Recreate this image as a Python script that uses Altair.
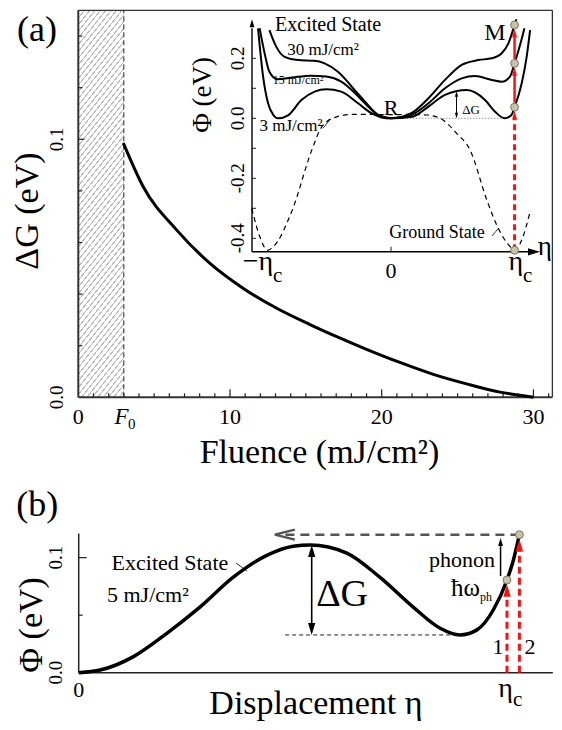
import altair as alt
import pandas as pd

FONT = "Liberation Serif"

# ---------------- data ----------------
# panel (a): activation barrier vs fluence
fluence = [2.97, 4.28, 6.49, 8.68, 10.88, 13.08, 15.27, 17.0, 19.0, 21.2, 23.4, 25.6, 27.8, 29.8, 30.0]
delta_g = [0.0985, 0.0816, 0.0648, 0.0519, 0.0422, 0.0345, 0.0282, 0.0236, 0.0186, 0.0135, 0.0089, 0.0052, 0.0020, 0.0002, 0.0]
F0 = 3.0
a_xticks_minor = [v for v in range(1, 32) if v % 10 != 0]
a_xticks_major = [10, 20, 30]
a_xlabels = [(0, "0"), (10, "10"), (20, "20"), (30, "30")]
a_yticks = [0.02, 0.04, 0.06, 0.08, 0.12, 0.14]
a_ylabels = [(0.0, "0.0"), (0.1, "0.1")]
a_xmax = 31.25

# inset: potential curves (eta in units of eta_c)
eta_3 = [-1.077, -1.036, -0.996, -0.955, -0.915, -0.834, -0.726, -0.619, -0.524, -0.403, -0.267, -0.159, -0.078, 0.0,
         0.168, 0.303, 0.437, 0.613, 0.761, 0.842, 0.92, 0.975, 1.0, 1.058, 1.098, 1.126]
phi_3 = [0.300, 0.139, 0.050, 0.012, 0.000, 0.010, 0.061, 0.089, 0.097, 0.089, 0.050, 0.017, 0.003, 0.000,
         0.005, 0.039, 0.078, 0.094, 0.061, 0.022, 0.000, 0.011, 0.037, 0.117, 0.205, 0.294]
eta_15 = [-1.064, -1.024, -0.985, -0.92, -0.80, -0.65, -0.524, -0.403, -0.295, -0.186, -0.09, 0.0,
          0.168, 0.303, 0.437, 0.572, 0.68, 0.815, 0.896, 0.963, 1.0, 1.055, 1.08]
phi_15 = [0.300, 0.217, 0.155, 0.130, 0.136, 0.142, 0.139, 0.122, 0.085, 0.039, 0.008, 0.000,
          0.012, 0.050, 0.100, 0.133, 0.141, 0.128, 0.122, 0.139, 0.183, 0.260, 0.300]
eta_30 = [-0.985, -0.93, -0.862, -0.754, -0.619, -0.538, -0.43, -0.294, -0.186, -0.105, 0.0,
          0.168, 0.303, 0.437, 0.572, 0.707, 0.815, 0.896, 0.95, 1.0, 1.015]
phi_30 = [0.294, 0.239, 0.205, 0.194, 0.192, 0.183, 0.155, 0.094, 0.044, 0.011, 0.000,
          0.018, 0.067, 0.128, 0.178, 0.194, 0.200, 0.217, 0.250, 0.311, 0.330]
eta_g = [-1.128, -1.058, -1.0, -0.953, -0.80, -0.642, -0.56, -0.44, -0.305, -0.15, 0.0, 0.15, 0.289, 0.397,
         0.531, 0.64, 0.775, 0.856, 0.964, 1.0, 1.058, 1.126]
phi_g = [-0.300, -0.400, -0.440, -0.428, -0.306, -0.106, -0.028, 0.005, 0.013, 0.013, 0.012, 0.013, 0.011, 0.000,
         -0.050, -0.106, -0.272, -0.356, -0.428, -0.440, -0.406, -0.311]
inset_points_phi = [0.037, 0.183, 0.311, -0.440]
i_yticks = [-0.4, -0.3, -0.2, -0.1, 0.0, 0.1, 0.2]
i_ylabels = [(0.2, "0.2"), (0.0, "0.0"), (-0.2, "-0.2"), (-0.4, "-0.4")]

# panel (b): excited state at 5 mJ/cm2
eta_b = [0.0, 0.05, 0.128, 0.205, 0.283, 0.361, 0.439, 0.501, 0.54, 0.626, 0.703, 0.781, 0.844, 0.89, 0.929,
         0.968, 1.0, 1.015, 1.029]
phi_b = [0.0, 0.0023, 0.014, 0.034, 0.057, 0.083, 0.102, 0.110, 0.111, 0.104, 0.083, 0.057, 0.0386, 0.0328, 0.037,
         0.0545, 0.0806, 0.098, 0.120]
b_point1 = (1.0, 0.0806)
b_point2 = (1.029, 0.120)
b_max = (0.544, 0.111)
b_min = (0.89, 0.0328)
b_ylabels = [(0.0, "0.0"), (0.1, "0.1")]
b_xmax = 1.107

# ---------------- scales (explicit pixel ranges for each panel) ----------------
def S(dom, rng):
    return alt.Scale(domain=dom, range=rng, nice=False, zero=False)

AX = S([0, 31.6], [70.3, 549.7])
AY = S([0, 0.15], [389.3, 2.3])
IX = S([-1.126, 1.206], [244.0, 532.0])
IY = S([-0.445, 0.33], [243.8, 11.3])
BX = S([0, 1.124], [70.7, 552.1])
BY = S([0, 0.121], [664.7, 525.5])

UP = "M0,0L0.6,2L-0.6,2Z"
DOWN = "M0,0L0.6,-2L-0.6,-2Z"
RIGHT = "M0,0L-2,0.6L-2,-0.6Z"
LEFT_CHEV = "M2,-0.5L0,0L2,0.5"

layers = []


def xy(xs, ys, xf="x", yf="y"):
    return dict(x=alt.X(f"{xf}:Q", scale=xs, axis=None), y=alt.Y(f"{yf}:Q", scale=ys, axis=None))


def curve(xv, yv, xs, ys, interp="monotone", **mk):
    df = pd.DataFrame({"x": xv, "y": yv})
    layers.append(alt.Chart(df).mark_line(interpolate=interp, **mk).encode(**xy(xs, ys)))


def segs(rows, xs, ys, **mk):
    df = pd.DataFrame(rows, columns=["x", "y", "x2", "y2"])
    layers.append(alt.Chart(df).mark_rule(**mk).encode(
        x=alt.X("x:Q", scale=xs, axis=None), y=alt.Y("y:Q", scale=ys, axis=None),
        x2="x2:Q", y2="y2:Q"))


def ticks_x(vals, xs, y0, length, width=1.2):
    df = pd.DataFrame({"v": vals})
    layers.append(alt.Chart(df).mark_rule(color="#222", strokeWidth=width).encode(
        x=alt.X("v:Q", scale=xs, axis=None), y=alt.value(y0), y2=alt.value(y0 - length)))


def ticks_y(vals, ys, x0, length, width=1.2):
    df = pd.DataFrame({"v": vals})
    layers.append(alt.Chart(df).mark_rule(color="#222", strokeWidth=width).encode(
        y=alt.Y("v:Q", scale=ys, axis=None), x=alt.value(x0), x2=alt.value(x0 + length)))


def heads(rows, xs, ys, shape, size, color="black", filled=True, sw=1.0):
    df = pd.DataFrame(rows, columns=["x", "y"])
    layers.append(alt.Chart(df).mark_point(shape=shape, size=size, filled=filled, color=color,
                                           opacity=1, strokeWidth=sw).encode(**xy(xs, ys)))


def dots(rows, xs, ys):
    df = pd.DataFrame(rows, columns=["x", "y"])
    layers.append(alt.Chart(df).mark_circle(size=62, fill="#c9c2a6", stroke="#7d7868", strokeWidth=1,
                                            opacity=1).encode(**xy(xs, ys)))


def texts(rows, xs, ys, align="center", baseline="alphabetic", style="normal", color="black"):
    df = pd.DataFrame(rows, columns=["x", "y", "t", "s", "a"])
    layers.append(alt.Chart(df).mark_text(font=FONT, align=align, baseline=baseline, fontStyle=style,
                                          color=color).encode(
        x=alt.X("x:Q", scale=xs, axis=None), y=alt.Y("y:Q", scale=ys, axis=None),
        text="t:N", size=alt.Size("s:Q", scale=None, legend=None),
        angle=alt.Angle("a:Q", scale=None, legend=None)))


# ---------------- panel (a) ----------------
# hatched region below F0 (striped linear gradient)
W, H, slope = 45.5, 387.0, 1.25
r = slope * W / H
gb = (1 + r) / (1 + r * r)
ga = r * gb
N = 66
stops = []
for k in range(N):
    stops += [{"offset": k / N, "color": "#bcbcbc"}, {"offset": (k + 0.26) / N, "color": "#bcbcbc"},
              {"offset": (k + 0.26) / N, "color": "#ffffff"}, {"offset": (k + 1) / N, "color": "#ffffff"}]
hatch_df = pd.DataFrame({"x": [0.0], "x2": [F0], "y": [0.0], "y2": [0.15]})
layers.append(alt.Chart(hatch_df).mark_rect(
    fill={"gradient": "linear", "x1": 0, "y1": 0, "x2": ga, "y2": gb, "stops": stops}).encode(
    x=alt.X("x:Q", scale=AX, axis=None), x2="x2:Q", y=alt.Y("y:Q", scale=AY, axis=None), y2="y2:Q"))

segs([(F0, 0, F0, 0.15)], AX, AY, color="#222", strokeWidth=1, strokeDash=[5, 3])
segs([(0, 0.15, a_xmax, 0.15), (a_xmax, 0, a_xmax, 0.15)], AX, AY, color="#333", strokeWidth=1.3)
segs([(0, 0, 0, 0.15), (0, 0, a_xmax, 0)], AX, AY, color="#333", strokeWidth=2)
ticks_x(a_xticks_minor, AX, 389.3, 4)
ticks_x(a_xticks_major, AX, 389.3, 8)
ticks_y(a_yticks, AY, 70.3, 4)
ticks_y([0.1], AY, 70.3, 6)
curve(fluence, delta_g, AX, AY, color="black", strokeWidth=3)

texts([(x, -0.01035, t, 22, 0) for x, t in a_xlabels], AX, AY)
texts([(-1.40, v, t, 19, 270) for v, t in a_ylabels], AX, AY, baseline="middle")
texts([(2.85, -0.01035, "F", 23, 0)], AX, AY, style="italic")
texts([(3.52, -0.0123, "0", 15, 0)], AX, AY)
texts([(15.9, -0.0254, "Fluence (mJ/cm²)", 34, 0)], AX, AY)
texts([(-3.32, 0.0722, "ΔG (eV)", 34, 270)], AX, AY, baseline="middle")
texts([(-2.72, 0.1424, "(a)", 36, 0)], AX, AY, baseline="middle")

# ---------------- inset ----------------
segs([(-1.126, -0.445, -1.126, 0.30)], IX, IY, color="black", strokeWidth=1.4)
segs([(-1.126, -0.445, 1.16, -0.445)], IX, IY, color="black", strokeWidth=1.4)
heads([(-1.126, 0.33)], IX, IY, UP, 64)
heads([(1.206, -0.445)], IX, IY, RIGHT, 144)
ticks_y(i_yticks, IY, 244.0, 4, 1.0)
ticks_x([0.0], IX, 243.8, 5, 1.0)
segs([(0.08, 0.0, 0.93, 0.0)], IX, IY, color="#999", strokeWidth=1, strokeDash=[1.5, 1.5])
curve(eta_g, phi_g, IX, IY, color="black", strokeWidth=1.2, strokeDash=[5, 4])
curve(eta_3, phi_3, IX, IY, color="black", strokeWidth=2)
curve(eta_15, phi_15, IX, IY, color="black", strokeWidth=2)
curve(eta_30, phi_30, IX, IY, color="black", strokeWidth=2)
# small delta-G arrow
segs([(0.53, 0.006, 0.53, 0.084)], IX, IY, color="black", strokeWidth=1)
heads([(0.53, 0.090)], IX, IY, UP, 30)
heads([(0.53, 0.0)], IX, IY, DOWN, 30)
# leaders
segs([(0.818, -0.392, 0.872, -0.366), (-0.551, -0.033, -0.494, -0.004)], IX, IY, color="black", strokeWidth=0.8)
# red excitation arrows
segs([(1.0, -0.44, 1.0, 0.0)], IX, IY, color="#ff1010", strokeWidth=3, strokeDash=[6, 4])
segs([(1.0, 0.052, 1.0, 0.15), (1.0, 0.198, 1.0, 0.275)], IX, IY, color="#ff1010", strokeWidth=2.5)
heads([(1.0, 0.024), (1.0, 0.170), (1.0, 0.298)], IX, IY, UP, 70, color="#ff1010")
dots([(1.0, p) for p in inset_points_phi], IX, IY)

texts([(-1.239, v, t, 19, 270) for v, t in i_ylabels], IX, IY, baseline="middle")
texts([(-1.522, 0.078, "Φ (eV)", 27, 270)], IX, IY, baseline="middle")
texts([(0.0, -0.532, "0", 22, 0)], IX, IY)
texts([(1.069, -0.506, "η", 28, 0), (-0.955, -0.506, "−η", 28, 0)], IX, IY, align="right")
texts([(1.069, -0.546, "c", 21, 0), (-0.955, -0.546, "c", 21, 0)], IX, IY, align="left")
texts([(-0.51, 0.311, "Excited State", 20, 0), (-0.551, 0.228, "30 mJ/cm²", 17, 0),
       (-0.753, 0.128, "15 mJ/cm²", 12, 0), (-0.81, -0.026, "3 mJ/cm²", 17, 0),
       (0.0, 0.034, "R", 22, 0), (0.842, 0.284, "M", 24, 0), (0.648, 0.028, "ΔG", 13, 0),
       (0.372, -0.382, "Ground State", 18, 0), (1.245, -0.43, "η", 27, 0)], IX, IY, baseline="middle")

# ---------------- panel (b) ----------------
segs([(0, 0, 0, 0.121), (0, 0, b_xmax, 0)], BX, BY, color="#222", strokeWidth=1.5)
ticks_y([0.05], BY, 70.7, 4)
ticks_y([0.1], BY, 70.7, 8)
ticks_x([1.0], BX, 664.7, 5)
segs([(0.482, b_min[1], b_min[0], b_min[1])], BX, BY, color="#222", strokeWidth=1, strokeDash=[4, 3])
curve(eta_b, phi_b, BX, BY, color="black", strokeWidth=3.5)
# gray return arrow
segs([(b_point2[0], b_point2[1], 0.47, b_point2[1])], BX, BY, color="#555", strokeWidth=2.5, strokeDash=[9, 6])
heads([(0.458, b_point2[1])], BX, BY, LEFT_CHEV, 400, color="#555", filled=False, sw=2.5)
# delta G arrow
segs([(b_max[0], b_min[1] + 0.006, b_max[0], b_max[1] - 0.006)], BX, BY, color="black", strokeWidth=1.6)
heads([(b_max[0], b_max[1])], BX, BY, UP, 144)
heads([(b_max[0], b_min[1])], BX, BY, DOWN, 144)
# phonon arrow
segs([(0.985, 0.084, 0.985, 0.110)], BX, BY, color="black", strokeWidth=1.5)
heads([(0.985, 0.117)], BX, BY, UP, 64)
# leader
segs([(0.367, 0.0954, 0.393, 0.0884)], BX, BY, color="black", strokeWidth=0.8)
# red arrows 1 and 2
segs([(b_point1[0], 0.0, b_point1[0], b_point1[1] - 0.008), (b_point2[0], 0.0, b_point2[0], b_point2[1] - 0.008)],
     BX, BY, color="#ff1010", strokeWidth=3, strokeDash=[7, 4])
heads([(b_point1[0], b_point1[1] - 0.004), (b_point2[0], b_point2[1] - 0.004)], BX, BY, UP, 150, color="#ff1010")
dots([b_point1, b_point2], BX, BY)

texts([(-0.053, v, t, 19, 270) for v, t in b_ylabels], BX, BY, baseline="middle")
texts([(0.0, -0.0211, "0", 22, 0)], BX, BY)
texts([(1.014, -0.0211, "η", 28, 0)], BX, BY, align="right")
texts([(1.014, -0.029, "c", 21, 0)], BX, BY, align="left")
texts([(0.554, -0.0362, "Displacement η", 34, 0)], BX, BY)
texts([(-0.109, 0.0415, "Φ (eV)", 34, 270), (-0.097, 0.1458, "(b)", 36, 0),
       (0.213, 0.0954, "Excited State", 22, 0), (0.615, 0.0676, "ΔG", 38, 0),
       (0.979, 0.0224, "1", 22, 0), (1.054, 0.0224, "2", 22, 0)], BX, BY, baseline="middle")
texts([(0.066, 0.0676, "5 mJ/cm²", 22, 0)], BX, BY, align="left", baseline="middle")
texts([(0.972, 0.098, "phonon", 22, 0), (0.937, 0.0737, "ħω", 25, 0)], BX, BY, align="right", baseline="middle")
texts([(0.937, 0.0658, "ph", 12, 0)], BX, BY, align="left", baseline="middle")

chart = alt.layer(*layers).resolve_scale(
    x="independent", y="independent", size="independent", angle="independent"
).properties(
    width=546, height=714, padding=0, autosize=alt.AutoSizeParams(type="none")
).configure_view(stroke=None)

chart.save("out.html", embed_options={"renderer": "svg", "actions": False})
